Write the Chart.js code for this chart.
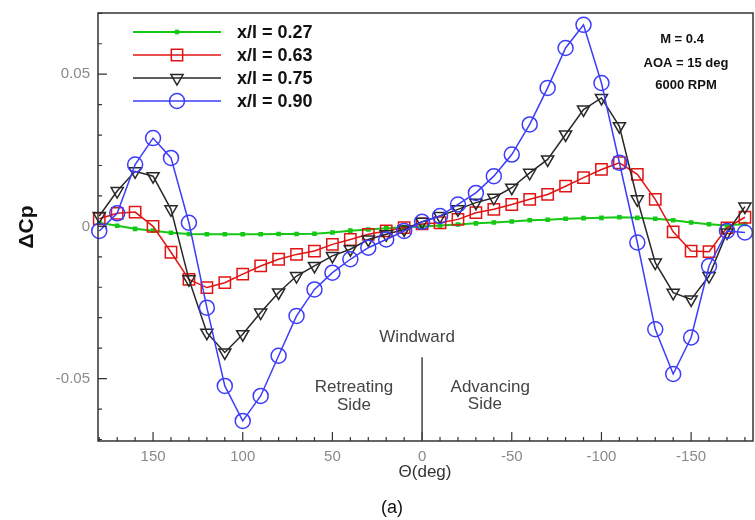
<!DOCTYPE html>
<html>
<head>
<meta charset="utf-8">
<script src="https://cdn.jsdelivr.net/npm/chart.js@4/dist/chart.umd.min.js"></script>
<style>
  body { margin: 0; background: #fff; }
  canvas { display: block; }
</style>
</head>
<body>
<canvas id="dcpPlot" width="755" height="520"></canvas>
<script>
// azimuth angle, 180 .. -180 in 10 deg steps
const theta = [180, 170, 160, 150, 140, 130, 120, 110, 100, 90, 80, 70, 60, 50, 40, 30, 20, 10, 0,
  -10, -20, -30, -40, -50, -60, -70, -80, -90, -100, -110, -120, -130, -140, -150, -160, -170, -180]

const dcp027 = [0.0012, 0.0002, -0.0008, -0.0014, -0.0021, -0.0025, -0.0026, -0.0026, -0.0026, -0.0026,
  -0.0025, -0.0025, -0.0024, -0.002, -0.0014, -0.001, -0.0006, -0.0003, 0,
  0.0003, 0.0006, 0.001, 0.0013, 0.0016, 0.002, 0.0022, 0.0025, 0.0027, 0.0028, 0.003,
  0.0028, 0.0025, 0.002, 0.0013, 0.0007, 0.0003, 0.0008]
const dcp063 = [0.0025, 0.0043, 0.0047, 0.0, -0.0085, -0.0174, -0.0201, -0.0185, -0.0157, -0.013,
  -0.0108, -0.0092, -0.0081, -0.0059, -0.0043, -0.0026, -0.0015, -0.0004, 0.0008,
  0.0012, 0.0023, 0.0045, 0.0056, 0.0072, 0.0089, 0.0105, 0.0132, 0.016, 0.0187, 0.0209,
  0.0171, 0.0089, -0.0018, -0.0081, -0.0083, -0.0005, 0.003]
const dcp075 = [0.0034, 0.0116, 0.0181, 0.0165, 0.0056, -0.0174, -0.0349, -0.0414, -0.0354, -0.0283,
  -0.0217, -0.0163, -0.013, -0.0097, -0.0075, -0.0043, -0.0026, -0.001, 0.0015,
  0.0034, 0.0056, 0.0078, 0.0094, 0.0127, 0.0176, 0.022, 0.0302, 0.0384, 0.0422, 0.0329,
  0.0089, -0.0119, -0.0218, -0.024, -0.0163, -0.002, 0.0065]
const dcp090 = [-0.0015, 0.0043, 0.0203, 0.029, 0.0225, 0.0012, -0.0267, -0.0524, -0.0639, -0.0557,
  -0.0425, -0.0294, -0.0207, -0.0152, -0.0108, -0.007, -0.0043, -0.0015, 0.0015,
  0.0034, 0.0072, 0.011, 0.0165, 0.0236, 0.0335, 0.0455, 0.0586, 0.0662, 0.0471, 0.0209,
  -0.0053, -0.0338, -0.0485, -0.0365, -0.013, -0.0015, -0.002]

const seriesLabels = ['x/l = 0.27', 'x/l = 0.63', 'x/l = 0.75', 'x/l = 0.90']
const xTickLabels = [150, 100, 50, 0, -50, -100, -150]
const yTickLabels = [0.05, 0, -0.05]

const toPts = vals => vals.map((v, i) => ({x: theta[i], y: v}))

const styles = [
  {color: 'rgb(20,200,20)', pointStyle: 'rect', radius: 2.2, rotation: 0, width: 2, fill: 'rgb(20,200,20)'},
  {color: 'rgb(225,20,20)', pointStyle: 'rect', radius: 8, rotation: 0, width: 1.5, fill: 'rgba(0,0,0,0)'},
  {color: 'rgb(40,40,40)', pointStyle: 'triangle', radius: 7, rotation: 180, width: 1.5, fill: 'rgba(0,0,0,0)'},
  {color: 'rgb(60,60,250)', pointStyle: 'circle', radius: 7.5, rotation: 0, width: 1.5, fill: 'rgba(0,0,0,0)'},
]
const allVals = [dcp027, dcp063, dcp075, dcp090]

const datasets = allVals.map((vals, i) => ({
  label: seriesLabels[i],
  data: toPts(vals),
  borderColor: styles[i].color,
  borderWidth: styles[i].width,
  pointStyle: styles[i].pointStyle,
  pointRadius: styles[i].radius,
  pointRotation: styles[i].rotation,
  pointBorderColor: styles[i].color,
  pointBackgroundColor: styles[i].fill,
  pointBorderWidth: 1.5,
  tension: 0,
  clip: false,
  order: 4 - i,
}))

const FONT = '"Liberation Sans", Arial, sans-serif'

const decorations = {
  id: 'decorations',
  afterDraw(chart) {
    const ctx = chart.ctx
    const a = chart.chartArea
    const xs = chart.scales.x
    const ys = chart.scales.y
    ctx.save()

    // frame
    ctx.strokeStyle = '#333'
    ctx.lineWidth = 1.5
    ctx.strokeRect(a.left, a.top, a.right - a.left, a.bottom - a.top)

    // inward ticks
    ctx.lineWidth = 1.2
    ctx.beginPath()
    for (let v = -180; v <= 180; v += 10) {
      const px = xs.getPixelForValue(v)
      if (px < a.left || px > a.right) continue
      const len = v % 50 === 0 ? 9 : 4
      ctx.moveTo(px, a.bottom)
      ctx.lineTo(px, a.bottom - len)
    }
    for (let k = -7; k <= 7; k++) {
      const py = ys.getPixelForValue(k / 100)
      const len = k % 5 === 0 ? 9 : 4
      ctx.moveTo(a.left, py)
      ctx.lineTo(a.left + len, py)
    }
    ctx.stroke()

    // windward divider
    const x0 = xs.getPixelForValue(0)
    ctx.strokeStyle = '#444'
    ctx.lineWidth = 1.5
    ctx.beginPath()
    ctx.moveTo(x0, ys.getPixelForValue(-0.043))
    ctx.lineTo(x0, a.bottom)
    ctx.stroke()

    ctx.fillStyle = '#444'
    ctx.font = '17px ' + FONT
    ctx.textAlign = 'center'
    ctx.textBaseline = 'middle'
    ctx.fillText('Windward', x0 - 5, 337)
    ctx.fillText('Retreating', xs.getPixelForValue(38), 387)
    ctx.fillText('Side', xs.getPixelForValue(38), 405)
    ctx.fillText('Advancing', xs.getPixelForValue(-38), 387)
    ctx.fillText('Side', xs.getPixelForValue(-35), 404)

    // flow conditions
    ctx.fillStyle = '#111'
    ctx.font = 'bold 13px ' + FONT
    ctx.fillText('M = 0.4', 682, 39)
    ctx.fillText('AOA = 15 deg', 686, 63)
    ctx.fillText('6000 RPM', 686, 85)

    // legend
    const rows = [32, 55, 78, 101]
    ctx.font = 'bold 18px ' + FONT
    ctx.textAlign = 'left'
    rows.forEach((ry, i) => {
      const s = styles[i]
      ctx.strokeStyle = s.color
      ctx.lineWidth = s.width
      ctx.beginPath()
      ctx.moveTo(133, ry)
      ctx.lineTo(221, ry)
      ctx.stroke()
      ctx.fillStyle = s.fill
      ctx.lineWidth = 1.5
      Chart.helpers.drawPoint(ctx, {pointStyle: s.pointStyle, radius: s.radius, rotation: s.rotation, borderWidth: 1.5}, 177, ry)
      ctx.fillStyle = '#111'
      ctx.fillText(seriesLabels[i], 237, ry + 1)
    })

    // axis titles
    ctx.fillStyle = '#333'
    ctx.textAlign = 'center'
    ctx.font = '17px ' + FONT
    ctx.fillText('\u0398(deg)', 425, 472)
    ctx.font = '18px ' + FONT
    ctx.fillStyle = '#111'
    ctx.fillText('(a)', 392, 508)
    ctx.save()
    ctx.translate(27, 227)
    ctx.rotate(-Math.PI / 2)
    ctx.font = 'bold 21px ' + FONT
    ctx.fillText('\u0394Cp', 0, 0)
    ctx.restore()

    ctx.restore()
  }
}

new Chart(document.getElementById('dcpPlot'), {
  type: 'line',
  data: { datasets },
  options: {
    responsive: false,
    devicePixelRatio: 1,
    animation: false,
    layout: { autoPadding: false, padding: { left: 0, right: 2, top: 13, bottom: 0 } },
    plugins: { legend: { display: false }, tooltip: { enabled: false } },
    scales: {
      x: {
        type: 'linear',
        reverse: true,
        min: -184.5,
        max: 180.7,
        afterFit: s => { s.height = 79; s.paddingLeft = 0; s.paddingRight = 0 },
        afterBuildTicks: s => { s.ticks = xTickLabels.map(v => ({value: v})) },
        grid: { display: false, drawTicks: false },
        border: { display: false },
        ticks: {
          autoSkip: false,
          maxRotation: 0,
          padding: 7,
          color: '#8a8a8a',
          font: { family: FONT, size: 15 },
          callback: v => String(v),
        },
      },
      y: {
        min: -0.0705,
        max: 0.0701,
        afterFit: s => { s.width = 98; s.paddingTop = 0; s.paddingBottom = 0 },
        afterBuildTicks: s => { s.ticks = yTickLabels.map(v => ({value: v})) },
        grid: { display: false, drawTicks: false },
        border: { display: false },
        ticks: {
          padding: 8,
          color: '#8a8a8a',
          font: { family: FONT, size: 15 },
          callback: v => String(v),
        },
      },
    },
  },
  plugins: [decorations],
})
</script>
</body>
</html>
